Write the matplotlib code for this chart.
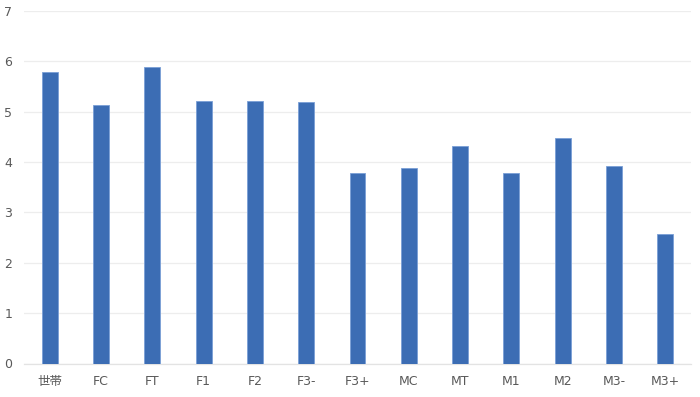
import matplotlib
matplotlib.use("Agg")
import matplotlib.pyplot as plt

plt.rcParams['font.family'] = ['DejaVu Sans', 'Noto Sans CJK JP']

categories = ["世帯", "FC", "FT", "F1", "F2", "F3-", "F3+", "MC", "MT", "M1", "M2", "M3-", "M3+"]
values = [5.78, 5.13, 5.88, 5.22, 5.22, 5.19, 3.79, 3.88, 4.32, 3.79, 4.47, 3.92, 2.57]
yticks = [0, 1, 2, 3, 4, 5, 6, 7]

fig = plt.figure(figsize=(7.0, 3.97), dpi=100)
ax = fig.add_axes([24/700, 1 - 363.5/397, (691-24)/700, (363.5-11)/397])

x = list(range(len(categories)))
ax.bar(x, values, width=0.31, color="#3C6DB4", edgecolor="#7A9FD6", linewidth=0.6, zorder=3)

ax.set_xlim(-0.5, len(categories) - 0.5)
ax.set_ylim(0, 7)
ax.set_yticks(yticks)
ax.set_xticks(x)
ax.set_xticklabels(categories)
ax.grid(axis='y', color="#EDEDED", linewidth=0.9, zorder=0)
for s in ['top', 'right', 'left']:
    ax.spines[s].set_visible(False)
ax.spines['bottom'].set_color("#E3E3E3")
ax.spines['bottom'].set_linewidth(0.9)
ax.tick_params(axis='both', length=0, labelsize=9, colors="#595959")
ax.tick_params(axis='y', pad=8.5)
ax.tick_params(axis='x', pad=8.5)

fig.savefig("out.png", dpi=100)
